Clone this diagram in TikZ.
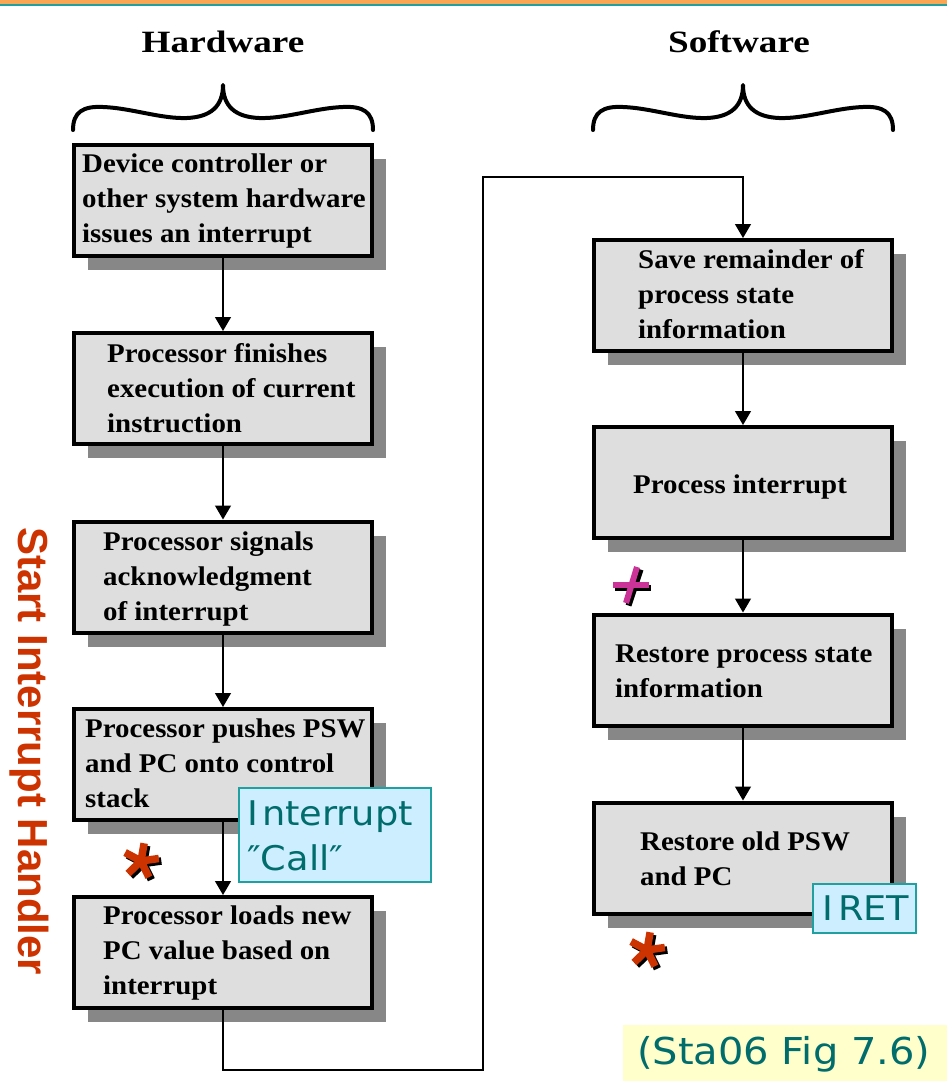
\documentclass[tikz,border=0pt]{standalone}
\usepackage{fontspec}
\setmainfont{Liberation Serif}
\newfontfamily\boxfont[FakeStretch=1.07]{Liberation Serif}
\newfontfamily\headfont[FakeStretch=1.2]{Liberation Serif}
\newfontfamily\notefont[FakeStretch=1.08]{DejaVu Sans}
\newfontfamily\sidefont{Liberation Sans}
\usetikzlibrary{arrows.meta,shadows}

\definecolor{topbar}{RGB}{250,166,82}
\definecolor{topline}{RGB}{32,160,160}
\definecolor{boxgray}{RGB}{222,222,222}
\definecolor{shadowgray}{RGB}{135,135,135}
\definecolor{noteblue}{RGB}{204,238,255}
\definecolor{noteedge}{RGB}{32,160,160}
\definecolor{noteink}{RGB}{0,108,108}
\definecolor{refyellow}{RGB}{255,255,204}
\definecolor{alertred}{RGB}{204,51,0}
\definecolor{markpink}{RGB}{204,51,153}

\tikzset{
  stepbox/.style={draw=black, line width=4pt, fill=boxgray,
    minimum width=298pt, minimum height=111pt, inner sep=0pt,
    drop shadow={shadow xshift=14pt, shadow yshift=-14pt, fill=shadowgray, opacity=1}},
  boxline/.style={anchor=base west, inner sep=0pt,
    font=\fontsize{27}{30}\selectfont\boxfont\bfseries},
  head/.style={anchor=base, inner sep=0pt,
    font=\fontsize{31}{34}\selectfont\headfont\bfseries},
  brace/.style={line width=4pt, line cap=round, line join=round},
  flow/.style={line width=1.3pt, -{Triangle[width=16pt,length=14pt]}},
  notebox/.style={draw=noteedge, line width=2pt, fill=noteblue, inner sep=0pt},
  noteline/.style={anchor=base west, inner sep=0pt, text=noteink,
    font=\fontsize{34}{40}\selectfont\notefont},
  arm/.style={line width=7.5pt},
}

% lines of text inside a step box: name, left x, first baseline, lines
\newcommand\boxlines[4]{%
  \foreach \t [count=\i] in {#4} {
    \node[boxline] (#1-\i) at (#2, {#3 + 35*(\i-1)}) {\t};
  }%
}

% five-armed slanted asterisk with a black drop shadow
\newcommand\redstar[2]{%
  \begin{scope}[shift={(#1,#2)}, yscale=-1]
    \foreach \a in {80,8,-64,-136,152}
      \draw[arm, black] (2.5,-2.5) -- ++(\a:18);
    \foreach \a in {80,8,-64,-136,152}
      \draw[arm, alertred] (0,0) -- (\a:18);
  \end{scope}%
}

\begin{document}
\begin{tikzpicture}[x=1pt, y=-1pt]
\useasboundingbox (0,0) rectangle (947,1082);

% title rule
\fill[topbar] (0,0) rectangle (947,4);
\fill[topline] (0,4) rectangle (947,6);

% column headings and braces
\node[head] (hw) at (223,52) {Hardware};
\node[head] (sw) at (739,52) {Software};
\foreach \cx in {223,743} {
  \begin{scope}[shift={(\cx,0)}]
    \draw[brace] (-150,130) .. controls (-150,112) and (-140,106) .. (-120,107)
      .. controls (-92,108) and (-62,119) .. (-36,118)
      .. controls (-12,117) and (0,106) .. (0,85)
      .. controls (0,106) and (12,117) .. (36,118)
      .. controls (62,119) and (92,108) .. (120,107)
      .. controls (140,106) and (150,112) .. (150,130);
  \end{scope}
}

% hardware steps
\node[stepbox] (b1) at (223,200.5) {};
\node[stepbox] (b2) at (223,388.5) {};
\node[stepbox] (b3) at (223,577) {};
\node[stepbox] (b4) at (223,764.5) {};
\node[stepbox] (b5) at (223,952.5) {};

% software steps
\node[stepbox] (b6) at (743,295.5) {};
\node[stepbox] (b7) at (743,482.5) {};
\node[stepbox] (b8) at (743,670) {};
\node[stepbox] (b9) at (743,858) {};

\boxlines{t1}{82}{172}{Device controller or, other system hardware, issues an interrupt}
\boxlines{t2}{107}{362}{Processor finishes, execution of current, instruction}
\boxlines{t3}{103}{550}{Processor signals, acknowledgment, of interrupt}
\boxlines{t4}{85}{737}{Processor pushes PSW, and PC onto control, stack}
\boxlines{t5}{103}{924}{Processor loads new, PC value based on, interrupt}
\boxlines{t6}{638}{268}{Save remainder of, process state, information}
\boxlines{t7}{633}{493}{Process interrupt}
\boxlines{t8}{615}{662}{Restore process state, information}
\boxlines{t9}{640}{850}{Restore old PSW, and PC}

% connectors
\draw[flow] (b1) -- (b2);
\draw[flow] (b2) -- (b3);
\draw[flow] (b3) -- (b4);
\draw[flow] (b4) -- (b5);
\draw[flow] (b6) -- (b7);
\draw[flow] (b7) -- (b8);
\draw[flow] (b8) -- (b9);
\coordinate (low) at (483,1070);
\coordinate (high) at (483,177);
\draw[flow] (b5.south) |- (low) -- (high) -| (b6.north);

% annotations
\node[notebox, minimum width=192pt, minimum height=94pt] (call) at (335,835) {};
\node[noteline] (call-1) at (247,825) {I\kern4pt nterrupt};
\node[noteline] (call-2) at (247,870) {″Call″};

\node[notebox, minimum width=103pt, minimum height=49pt] (iret) at (864.5,908.5) {};
\node[noteline] (iret-1) at (822,920) {I\kern5pt RET};

\node[fill=refyellow, inner sep=0pt, minimum width=324pt, minimum height=56pt] (refbox) at (785,1053) {};
\node[anchor=base west, inner sep=0pt, text=noteink,
  font=\fontsize{37}{40}\selectfont\notefont] (ref) at (637,1064) {(Sta06 Fig 7.6)};

\node[rotate=-90, anchor=base west, inner sep=0pt, text=alertred,
  font=\fontsize{42}{42}\selectfont\sidefont\bfseries] (side) at (18,527) {Start Interrupt Handler};

% markers
\redstar{141}{861}
\redstar{647}{950}
\begin{scope}[shift={(631,585)}, yscale=-1]
  \draw[line width=6pt, black] (-16,-2.5) -- (20,-2.5);
  \draw[line width=6pt, black] (9.5,15.5) -- (-2.5,-20.5);
  \draw[line width=6pt, markpink] (-18,0) -- (18,0);
  \draw[line width=6pt, markpink] (6,18) -- (-5,-18);
\end{scope}
\end{tikzpicture}
\end{document}
